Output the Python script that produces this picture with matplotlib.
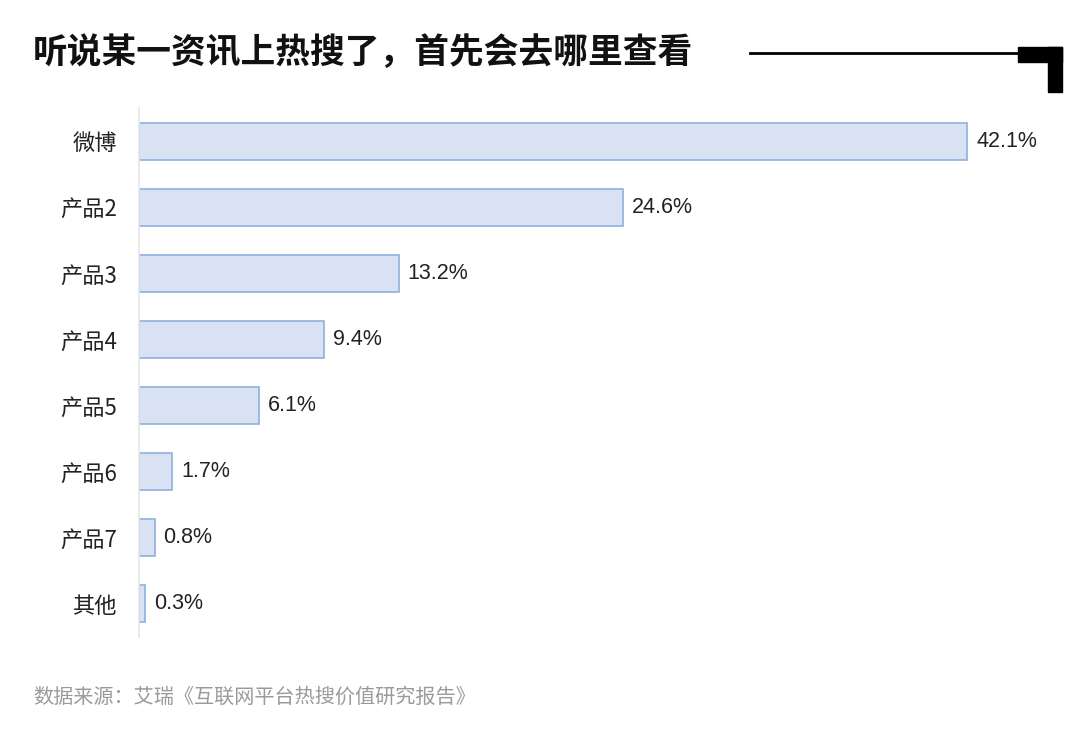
import matplotlib
matplotlib.use("Agg")
import matplotlib.pyplot as plt
from matplotlib.patches import Rectangle
from matplotlib.lines import Line2D

plt.rcParams['font.family'] = ['Noto Sans CJK SC', 'DejaVu Sans']

categories = ["微博", "产品2", "产品3", "产品4", "产品5", "产品6", "产品7", "其他"]
values = [42.1, 24.6, 13.2, 9.4, 6.1, 1.7, 0.8, 0.3]
labels = ["42.1%", "24.6%", "13.2%", "9.4%", "6.1%", "1.7%", "0.8%", "0.3%"]

W, H = 1080, 740
fig = plt.figure(figsize=(10.8, 7.4), dpi=100)
ax = fig.add_axes([139 / W, (H - 637) / H, 901 / W, 529 / H])
y = list(range(len(categories)))
ax.barh(y, values, height=0.56, color="#d8e2f3", edgecolor="#8fb0e0", linewidth=1.2)
ax.set_xlim(0, 45.8)
ax.set_ylim(len(categories) - 0.5, -0.5)
for yi, v, t in zip(y, values, labels):
    ax.text(v + 0.45, yi, t, va="center", ha="left", fontsize=15.5, color="#222222",
            family=['Liberation Sans', 'Noto Sans CJK SC'])
ax.set_yticks(y)
ax.set_yticklabels(categories, fontsize=16, color="#222222",
                   family=['Noto Sans CJK SC', 'Liberation Sans'])
ax.tick_params(axis="y", length=0, pad=16)
ax.set_xticks([])
for s in ["top", "right", "bottom"]:
    ax.spines[s].set_visible(False)
ax.spines["left"].set_color("#e6e6e6")
ax.spines["left"].set_linewidth(1.2)

fig.text(33 / W, 1 - 53 / H, "听说某一资讯上热搜了，首先会去哪里查看", fontsize=25,
         fontweight="heavy", va="center", ha="left", color="#111111")
fig.add_artist(Line2D([750 / W, 1020 / W], [1 - 53 / H] * 2, color="black", lw=2,
                      transform=fig.transFigure))
fig.add_artist(Rectangle((1018 / W, 1 - 62 / H), 44 / W, 15 / H, color="black",
                         transform=fig.transFigure))
fig.add_artist(Rectangle((1048 / W, 1 - 92 / H), 14 / W, 45 / H, color="black",
                         transform=fig.transFigure))
fig.text(33 / W, 1 - 697 / H, "数据来源：艾瑞《互联网平台热搜价值研究报告》", fontsize=14.5,
         color="#9a9a9a", va="center", ha="left")

fig.savefig("out.png", dpi=100, facecolor="white")
